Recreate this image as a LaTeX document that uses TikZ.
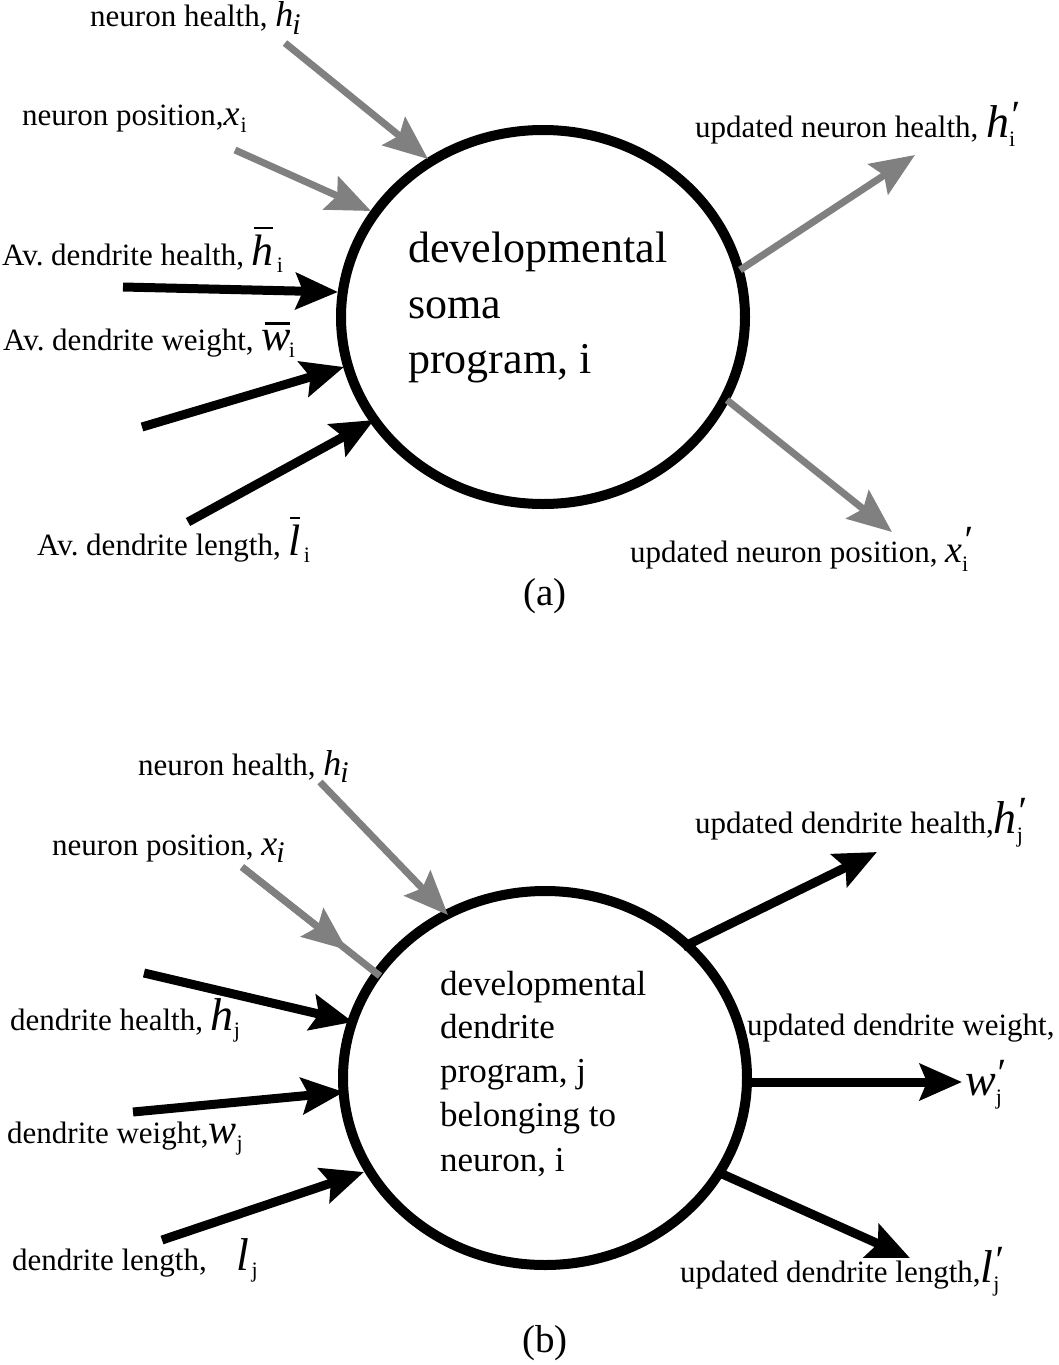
\documentclass[tikz,border=0pt]{standalone}
\usepackage{fontspec}
\setmainfont{Liberation Serif}
\usetikzlibrary{arrows.meta,shapes.geometric,calc}
\definecolor{gr}{HTML}{808080}
\newcommand{\lb}{\fontsize{31}{36}\selectfont}
\newcommand{\fs}[1]{\fontsize{#1}{#1}\selectfont}
% letter with subscript
\newcommand{\vsym}[3]{{\fs{#1}\itshape #2}\raisebox{-7pt}{\fs{22}#3}}
% letter with prime and subscript
\newcommand{\psym}[3]{{\fs{#1}\itshape #2}\rlap{\raisebox{9pt}{\fs{40}\itshape ′}}\raisebox{-9pt}{\fs{22}#3}}
% overbar
\newcommand{\ovl}[1]{\setbox0\hbox{#1}\rlap{\kern0.12\wd0\rule[\dimexpr\ht0+5pt]{0.85\wd0}{2.5pt}}\box0}
\begin{document}
\begin{tikzpicture}[x=1pt,y=-1pt,
  ga/.style={draw=gr, line width=7pt, -{Stealth[length=44pt,width=36pt,inset=7pt]}},
  gl/.style={draw=gr, line width=7pt},
  ba/.style={draw=black, line width=9pt, -{Stealth[length=42pt,width=36pt,inset=7pt]}},
  lbl/.style={anchor=base west, inner sep=0pt, font=\lb},
  body/.style={draw, line width=10pt, ellipse, minimum width=404pt, minimum height=374pt, inner sep=0pt},
  inA/.style={anchor=base west, inner sep=0pt, font=\fs{44}},
  inB/.style={anchor=base west, inner sep=0pt, font=\fs{35}},
  captext/.style={anchor=base, inner sep=0pt, font=\fs{39}}]
\useasboundingbox (0,0) rectangle (1059,1365);
\fill[white] (0,0) rectangle (1059,1365);

% ---------------- (a) ----------------
\node[body] (A) at (543,317) {};
\node[inA] (ta1) at (408,262) {developmental};
\node[inA] (ta2) at (408,318) {soma};
\node[inA] (ta3) at (408,373) {program, i};

\coordinate (a1s) at (285,43);  \coordinate (a1e) at (428,159);
\coordinate (a2s) at (235,150); \coordinate (a2e) at (371,211);
\coordinate (a3s) at (123,287); \coordinate (a3e) at (338,292);
\coordinate (a4s) at (142,427); \coordinate (a4e) at (344,367);
\coordinate (a5s) at (188,522); \coordinate (a5e) at (374,420);
\coordinate (a6s) at (740,270); \coordinate (a6e) at (915,155);
\coordinate (a7s) at (727,400); \coordinate (a7e) at (892,532);

\draw[ga] (a1s) -- (a1e);
\draw[ga] (a2s) -- (a2e);
\draw[ba] (a3s) -- (a3e);
\draw[ba] (a4s) -- (a4e);
\draw[ba] (a5s) -- (a5e);
\draw[ga] (a6s) -- (a6e);
\draw[ga] (a7s) -- (a7e);

\node[lbl] (la1) at (90,27) {neuron health, \vsym{36}{h}{\kern-1pt\fs{30}\itshape i}};
\node[lbl] (la2) at (22,125) {neuron position,\vsym{36}{x}{\kern1pt i}};
\node[lbl] (la3) at (2,265) {Av.\ dendrite health, \ovl{\fs{44}\itshape h}\vsym{1}{}{\kern3pt i}};
\node[lbl] (la4) at (3,350) {Av.\ dendrite weight, \ovl{\fs{44}\itshape w}\vsym{1}{}{\kern-2pt i}};
\node[lbl] (la5) at (37,555) {Av.\ dendrite length, \ovl{\fs{44}\itshape l}\vsym{1}{}{\kern3pt i}};
\node[lbl] (la6) at (695,137) {updated neuron health,\ \psym{46}{h}{i}};
\node[lbl] (la7) at (630,562) {updated neuron position, \psym{38}{x}{i}};
\node[captext] (capa) at (545,605) {(a)};

% ---------------- (b) ----------------
\node[body] (B) at (545,1078) {};
\node[inB] (tb1) at (440,995) {developmental};
\node[inB] (tb2) at (440,1038) {dendrite};
\node[inB] (tb3) at (440,1082) {program, j};
\node[inB] (tb4) at (440,1126) {belonging to};
\node[inB] (tb5) at (440,1171) {neuron, i};

\coordinate (b1s) at (320,782); \coordinate (b1e) at (448,915);
\coordinate (b2s) at (242,867); \coordinate (b2e) at (380,976);
\coordinate (b2m) at ($(b2s)!0.76!(b2e)$);
\coordinate (b3s) at (144,973); \coordinate (b3e) at (353,1022);
\coordinate (b4s) at (133,1112); \coordinate (b4e) at (344,1092);
\coordinate (b5s) at (162,1240); \coordinate (b5e) at (364,1172);
\coordinate (b6s) at (683,947); \coordinate (b6e) at (877,852);
\coordinate (b7s) at (747,1082); \coordinate (b7e) at (962,1082);
\coordinate (b8s) at (720,1173); \coordinate (b8e) at (910,1258);

\draw[ga] (b1s) -- (b1e);
\draw[gl] (b2s) -- (b2e);
\draw[ga] (b2s) -- (b2m);
\draw[ba] (b3s) -- (b3e);
\draw[ba] (b4s) -- (b4e);
\draw[ba] (b5s) -- (b5e);
\draw[ba] (b6s) -- (b6e);
\draw[ba] (b7s) -- (b7e);
\draw[ba] (b8s) -- (b8e);

\node[lbl] (lb1) at (138,775) {neuron health, \vsym{36}{h}{\kern-1pt\fs{30}\itshape i}};
\node[lbl] (lb2) at (52,855) {neuron position, \vsym{36}{x}{\kern-1pt\fs{30}\itshape i}};
\node[lbl] (lb3) at (10,1030) {dendrite health, \vsym{46}{h}{j}};
\node[lbl] (lb4) at (7,1143) {dendrite weight,\vsym{42}{w}{j}};
\node[lbl] (lb5) at (12,1270) {dendrite length,\hspace{30pt}\vsym{46}{l}{\kern2pt j}};
\node[lbl] (lb6) at (695,833) {updated dendrite health,\psym{46}{h}{j}};
\node[lbl] (lb7) at (747,1035) {updated dendrite weight,};
\node[lbl] (lb8) at (965,1095) {\psym{46}{w}{j}};
\node[lbl] (lb9) at (680,1282) {updated dendrite length,\psym{46}{l}{j}};
\node[captext] (capb) at (545,1352) {(b)};
\end{tikzpicture}
\end{document}
